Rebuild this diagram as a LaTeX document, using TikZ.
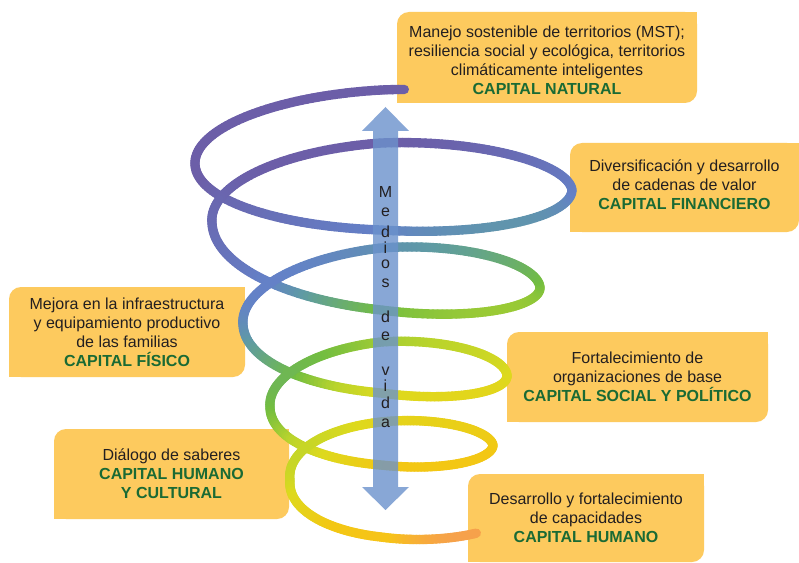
\documentclass[tikz,border=0pt]{standalone}
\usepackage{fontspec}
\setmainfont{Liberation Sans}
\definecolor{boxc}{RGB}{253,202,94}
\definecolor{capgreen}{RGB}{26,106,52}
\definecolor{txt}{RGB}{35,31,32}
\definecolor{arrowc}{RGB}{107,146,204}
% helix data at t = -0.25, 0, 0.25, ..., 4.75
\def\ycarr{{137,150,163,176.5,190,206.5,223,255,287,306,325,350,375,391,407,426,445,462.5,480,497,519}}
\def\barr{{60,60,56.75,53.5,58.5,63.5,59.25,55,56.5,58,50.5,43,46,49,44,39,39.75,40.5,40.25,40,40}}
\def\aarr{{186,186,186,188.5,191,180,169,164,159,148.5,138,132,126,118.5,111,111.5,112,101.5,91,100,125}}
% colour stops
\def\Uarr{{145,230,255,310,350,395,470,540,550,557}}
\def\Rarr{{108,100,95,115,185,222,243,247,247,244}}
\def\Garr{{94,130,155,190,212,218,200,196,165,148}}
\def\Barr{{168,200,165,65,45,30,20,25,70,95}}
\newcommand\helixpt[1]{%
  \pgfmathsetmacro\hs{4*(#1+0.25)}%
  \pgfmathtruncatemacro\hk{floor(\hs)}%
  \pgfmathtruncatemacro\hkk{\hk+1}%
  \pgfmathsetmacro\hf{\hs-\hk}%
  \pgfmathsetmacro\hyc{\ycarr[\hk]*(1-\hf)+\ycarr[\hkk]*\hf}%
  \pgfmathsetmacro\hb{\barr[\hk]*(1-\hf)+\barr[\hkk]*\hf}%
  \pgfmathsetmacro\ha{\aarr[\hk]*(1-\hf)+\aarr[\hkk]*\hf}%
  \pgfmathsetmacro\hx{381-\ha*sin(360*#1)}%
  \pgfmathsetmacro\hy{\hyc-\hb*cos(360*#1)}%
}
\tikzset{
  leaf/.style={rectangle, fill=boxc, rounded corners=9pt, inner sep=0pt,
    align=center, text=txt, font=\fontsize{12}{14.25}\selectfont},
  letter/.style={text=txt, inner sep=0pt, font=\fontsize{12}{14}\selectfont},
  spiralseg/.style={line width=7pt, line cap=round}
}
\begin{document}
\begin{tikzpicture}[x=0.75pt,y=-0.75pt]
\useasboundingbox (0,0) rectangle (799,563);
\fill[white] (0,0) rectangle (799,563);
% boxes
\node[leaf, minimum width=225pt, minimum height=68.25pt] (b1) at (547,57.5)
  {\rule{0pt}{13pt}Manejo sostenible de territorios (MST);\\resiliencia social y ecológica, territorios\\climáticamente inteligentes\\{\bfseries\color{capgreen}CAPITAL NATURAL}};
\node[leaf, minimum width=171.75pt, minimum height=66.75pt] (b2) at (684.5,187.5)
  {Diversificación y desarrollo\\de cadenas de valor\\{\bfseries\color{capgreen}CAPITAL FINANCIERO}\rule[-5pt]{0pt}{5pt}};
\node[leaf, minimum width=177pt, minimum height=67.5pt] (b3) at (127,332)
  {Mejora en la infraestructura\\y equipamiento productivo\\de las familias\\{\bfseries\color{capgreen}CAPITAL FÍSICO}};
\node[leaf, minimum width=176.25pt, minimum height=67.5pt] (b4) at (171.5,474)
  {Diálogo de saberes\\{\bfseries\color{capgreen}CAPITAL HUMANO}\\{\bfseries\color{capgreen}Y CULTURAL}};
\node[leaf, minimum width=195.75pt, minimum height=67.5pt] (b5) at (637.5,377)
  {Fortalecimiento de\\organizaciones de base\\{\bfseries\color{capgreen}CAPITAL SOCIAL Y POLÍTICO}};
\node[leaf, minimum width=177pt, minimum height=66pt] (b6) at (586,518)
  {Desarrollo y fortalecimiento\\de capacidades\\{\bfseries\color{capgreen}CAPITAL HUMANO}};
\foreach \n in {b1,b2,b3,b4,b5,b6}{
  \fill[boxc] (\n.north east) rectangle ([shift={(-10pt,-10pt)}]\n.north east);
  \fill[boxc] (\n.south west) rectangle ([shift={(10pt,10pt)}]\n.south west);
}
% spiral
\foreach \i in {0,...,933}{
  \pgfmathsetmacro\ta{-0.02+\i*0.005}
  \pgfmathsetmacro\tb{\ta+0.005}
  \helixpt{\ta}\let\xa\hx\let\ya\hy
  \helixpt{\tb}\let\xb\hx\let\yb\hy
  \pgfmathsetmacro\mx{(\xa+\xb)/2}
  \pgfmathsetmacro\my{(\ya+\yb)/2}
  \pgfmathsetmacro\kx{ifthenelse(\mx<385, 0.2+0.9*max(0,min(1,(\my-200)/280)), 0.2)}
  \pgfmathsetmacro\uu{\my+\kx*(\mx-385)}
  \pgfmathtruncatemacro\ck{(\uu>230)+(\uu>255)+(\uu>310)+(\uu>350)+(\uu>395)+(\uu>470)+(\uu>540)+(\uu>550)}
  \pgfmathtruncatemacro\ckk{\ck+1}
  \pgfmathsetmacro\cp{max(0,min(1,(\uu-\Uarr[\ck])/(\Uarr[\ckk]-\Uarr[\ck])))}
  \pgfmathtruncatemacro\cr{\Rarr[\ck]+(\Rarr[\ckk]-\Rarr[\ck])*\cp}
  \pgfmathtruncatemacro\cg{\Garr[\ck]+(\Garr[\ckk]-\Garr[\ck])*\cp}
  \pgfmathtruncatemacro\cb{\Barr[\ck]+(\Barr[\ckk]-\Barr[\ck])*\cp}
  \definecolor{segc}{RGB}{\cr,\cg,\cb}
  \draw[segc, spiralseg] (\xa,\ya) -- (\xb,\yb);
}
% double arrow
\fill[arrowc, opacity=0.8] (385.5,107) -- (409,131) -- (398,131) -- (398,487) -- (409,487)
  -- (385.5,510) -- (362,487) -- (373,487) -- (373,131) -- (362,131) -- cycle;
% vertical label
\node[letter] (m1) at (385.5,192) {M};
\node[letter] (m2) at (385.5,212.5) {e};
\node[letter] (m3) at (385.5,232) {d};
\node[letter] (m4) at (385.5,248) {i};
\node[letter] (m5) at (385.5,264) {o};
\node[letter] (m6) at (385.5,283) {s};
\node[letter] (m7) at (385.5,317) {d};
\node[letter] (m8) at (385.5,336) {e};
\node[letter] (m9) at (385.5,371) {v};
\node[letter] (m10) at (385.5,386) {i};
\node[letter] (m11) at (385.5,403) {d};
\node[letter] (m12) at (385.5,423) {a};
\end{tikzpicture}
\end{document}
